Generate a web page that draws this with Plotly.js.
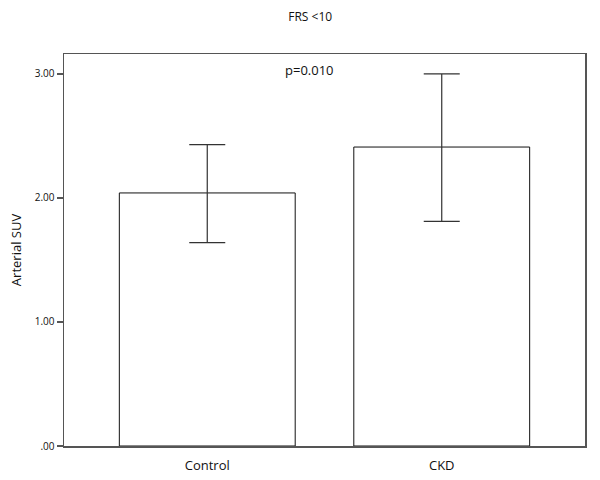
<!DOCTYPE html>
<html>
<head>
<meta charset="utf-8">
<script src="https://cdn.plot.ly/plotly-3.0.1.min.js"></script>
<style>html,body{margin:0;padding:0;background:#fff;}#chart{width:600px;height:480px;}</style>
</head>
<body>
<div id="chart"></div>
<script>
const categories = ["Control", "CKD"];
const means = [2.04, 2.41];
const errUpper = [0.39, 0.59];
const errLower = [0.40, 0.60];
const yTickVals = [0, 1, 2, 3];
const yTickText = [".00", "1.00", "2.00", "3.00"];
const chartTitle = "FRS <10";
const pText = "p=0.010";

const trace = {
  type: "bar",
  x: categories,
  y: means,
  width: 0.75,
  marker: {color: "#ffffff", line: {color: "#111111", width: 1}},
  error_y: {
    type: "data", symmetric: false,
    array: errUpper, arrayminus: errLower,
    color: "#333333", thickness: 1.2, width: 18
  },
  hoverinfo: "none"
};

const layout = {
  width: 600, height: 480,
  margin: {l: 64, r: 15, t: 54, b: 34, pad: 0},
  paper_bgcolor: "#ffffff", plot_bgcolor: "#ffffff",
  font: {family: "Open Sans, DejaVu Sans, sans-serif", color: "#111111"},
  title: {text: chartTitle, font: {size: 12, color: "#111111"}, xref: "container", x: 0.517, xanchor: "center", yref: "container", y: 1 - 17/480, yanchor: "middle"},
  showlegend: false,
  xaxis: {
    range: [-0.611, 1.611], type: "category",
    showline: true, mirror: true, linecolor: "#555555", linewidth: 1.5,
    ticks: "", showgrid: false, zeroline: false,
    ticklabelstandoff: 7,
    tickfont: {size: 13, color: "#111111"}
  },
  yaxis: {
    range: [0, 3.16],
    tickvals: yTickVals, ticktext: yTickText,
    showline: true, mirror: true, linecolor: "#555555", linewidth: 1.5,
    ticks: "outside", ticklen: 6, tickcolor: "#555555", tickwidth: 1.5,
    showgrid: false, zeroline: false,
    tickfont: {size: 10, color: "#111111"},
    title: {text: "Arterial SUV", font: {size: 13, color: "#111111"}, standoff: 10}
  },
  annotations: [{
    text: pText, xref: "paper", yref: "y", x: 0.472, y: 3.03,
    showarrow: false, xanchor: "center", yanchor: "middle",
    font: {size: 13, color: "#111111"}
  }]
};

Plotly.newPlot("chart", [trace], layout, {displayModeBar: false, staticPlot: true});
</script>
</body>
</html>
